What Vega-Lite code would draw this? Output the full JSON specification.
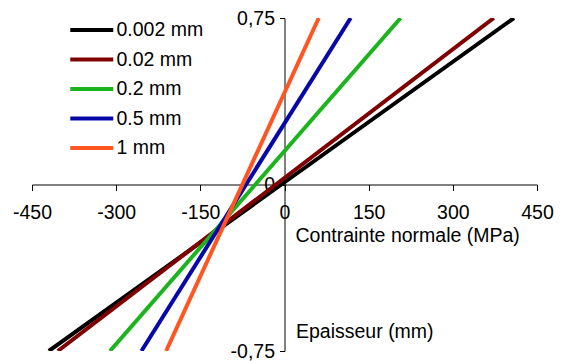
{
  "$schema": "https://vega.github.io/schema/vega-lite/v6.json",
  "width": 505,
  "height": 333,
  "autosize": {"type": "none"},
  "padding": {"left": 32, "top": 18, "right": 24, "bottom": 10},
  "background": "white",
  "config": {
    "view": {"stroke": null},
    "font": "Liberation Sans",
    "axis": {
      "grid": false,
      "domainColor": "black",
      "domainWidth": 1,
      "tickColor": "black",
      "tickWidth": 1,
      "labelColor": "black",
      "labelFont": "Liberation Sans",
      "labelFontSize": 19.5,
      "labelFlush": false,
      "labelOverlap": false,
      "labelBound": false,
      "titleFont": "Liberation Sans",
      "titleFontSize": 19.5,
      "titleFontWeight": "normal",
      "titleColor": "black"
    },
    "legend": {
      "labelFont": "Liberation Sans",
      "labelFontSize": 19.5,
      "labelColor": "black"
    }
  },
  "data": {
    "values": [
      {"e": "0.002 mm", "s": -420, "t": -0.75},
      {"e": "0.002 mm", "s": 409, "t": 0.75},
      {"e": "0.02 mm", "s": -404, "t": -0.75},
      {"e": "0.02 mm", "s": 373, "t": 0.75},
      {"e": "0.2 mm", "s": -311, "t": -0.75},
      {"e": "0.2 mm", "s": 207, "t": 0.75},
      {"e": "0.5 mm", "s": -255, "t": -0.75},
      {"e": "0.5 mm", "s": 118, "t": 0.75},
      {"e": "1 mm", "s": -211, "t": -0.75},
      {"e": "1 mm", "s": 61, "t": 0.75}
    ]
  },
  "mark": {"type": "line", "strokeWidth": 4, "clip": true},
  "encoding": {
    "x": {
      "field": "s",
      "type": "quantitative",
      "scale": {"domain": [-450, 450], "nice": false, "zero": false},
      "axis": {
        "orient": "bottom",
        "offset": -166.5,
        "values": [-450, -300, -150, 0, 150, 300, 450],
        "labelExpr": "toString(datum.value)",
        "tickSize": 6,
        "labelPadding": 13,
        "labelBaseline": "top",
        "title": "Contrainte normale (MPa)",
        "titleX": 263,
        "titleY": 51,
        "titleAlign": "left",
        "titleBaseline": "middle",
        "titleAnchor": null
      }
    },
    "y": {
      "field": "t",
      "type": "quantitative",
      "scale": {"domain": [-0.75, 0.75], "nice": false, "zero": false},
      "axis": {
        "orient": "left",
        "offset": -252.5,
        "values": [-0.75, 0, 0.75],
        "labelExpr": "replace(toString(datum.value), '.', ',')",
        "tickSize": 5,
        "labelPadding": 5,
        "title": "Epaisseur (mm)",
        "titleAngle": 0,
        "titleX": 11,
        "titleY": 313,
        "titleAlign": "left",
        "titleBaseline": "middle",
        "titleAnchor": null
      }
    },
    "color": {
      "field": "e",
      "type": "nominal",
      "scale": {
        "domain": ["0.002 mm", "0.02 mm", "0.2 mm", "0.5 mm", "1 mm"],
        "range": ["#000000", "#7f0000", "#1cb41c", "#0808a8", "#ff5520"]
      },
      "legend": {
        "orient": "none",
        "legendX": 46.75,
        "legendY": -1,
        "title": null,
        "symbolType": "M-2,0H2",
        "symbolSize": 462,
        "symbolStrokeWidth": 4,
        "labelOffset": 11.75,
        "rowPadding": 6.5,
        "padding": 0
      }
    }
  }
}
